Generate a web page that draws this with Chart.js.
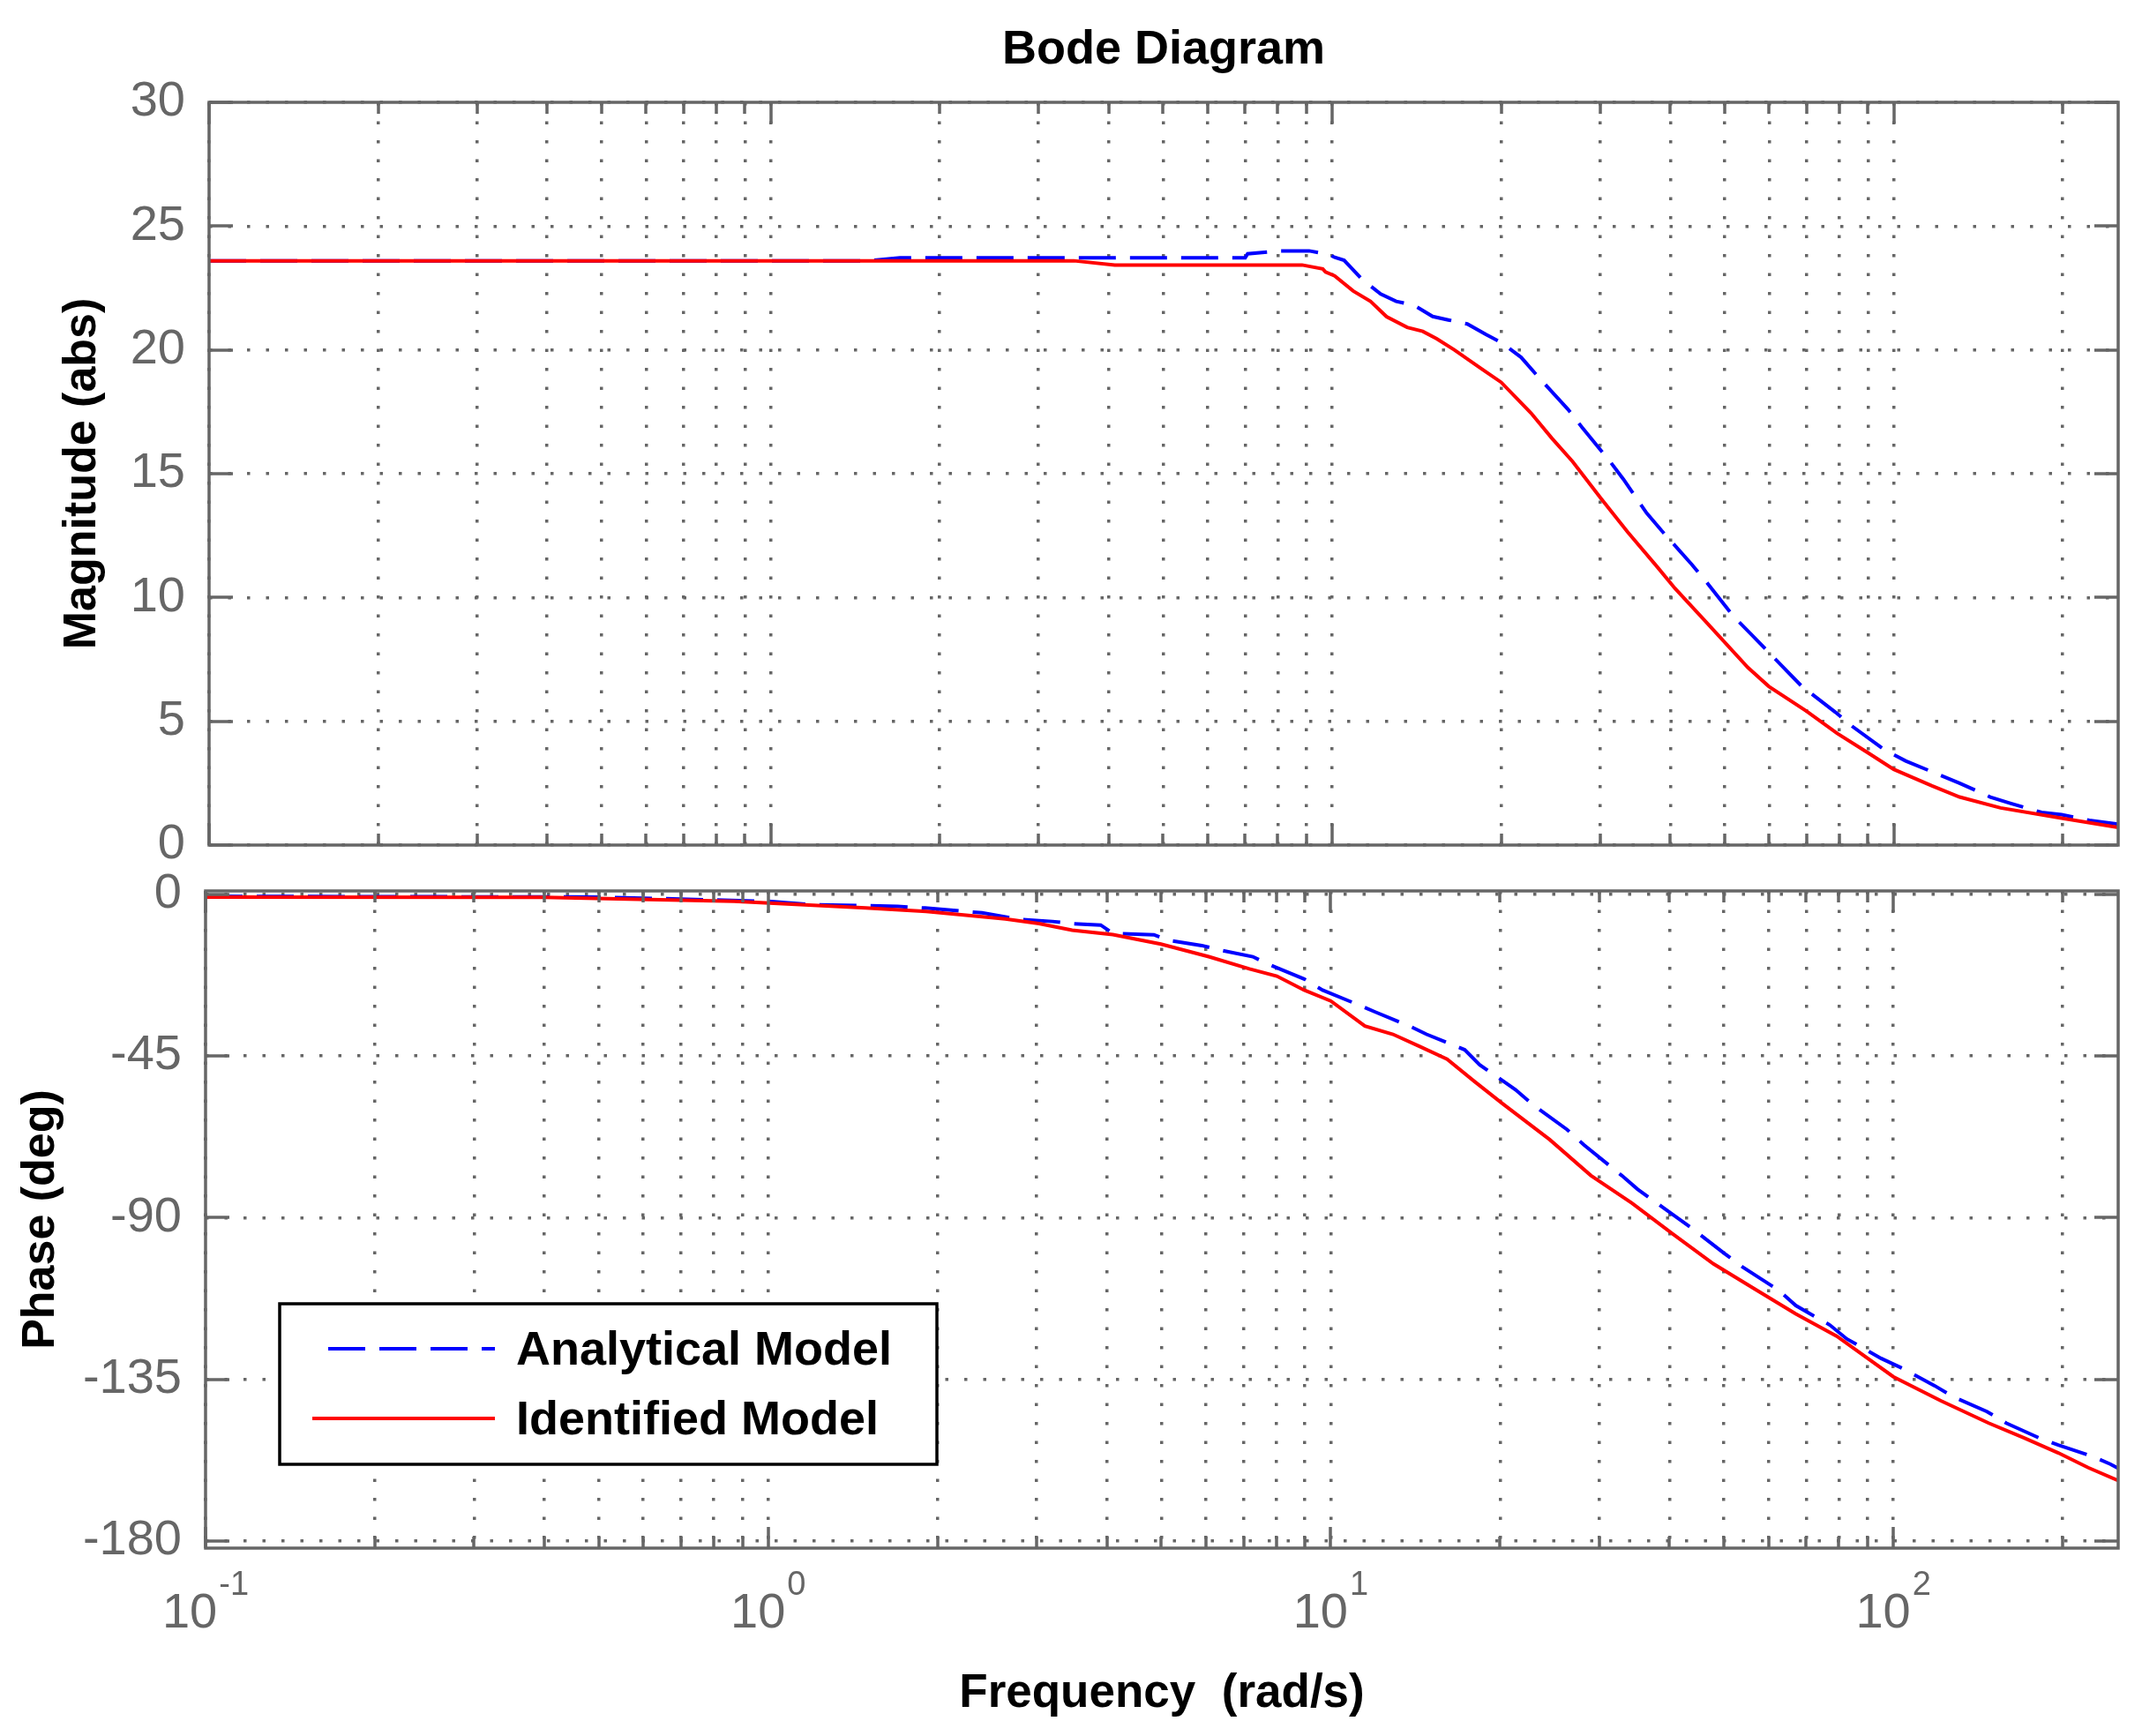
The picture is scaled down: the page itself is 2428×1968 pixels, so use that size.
<!DOCTYPE html>
<html>
<head>
<meta charset="utf-8">
<title>Bode Diagram</title>
<script src="https://cdn.jsdelivr.net/npm/chart.js@4.4.1/dist/chart.umd.min.js"></script>
<style>
  html, body { margin: 0; padding: 0; background: #fff; }
  #page { position: relative; width: 2428px; height: 1968px; overflow: hidden; }
  #magBox { position: absolute; left: 0; top: 0; width: 2428px; height: 985px; }
  #phaseBox { position: absolute; left: 0; top: 985px; width: 2428px; height: 983px; }
</style>
</head>
<body>
<div id="page">
  <div id="magBox"><canvas id="magChart" width="2428" height="985"></canvas></div>
  <div id="phaseBox"><canvas id="phaseChart" width="2428" height="983"></canvas></div>
</div>
<script>
//------------------------------------------------------
// DATA
//------------------------------------------------------

// x axis: frequency (rad/s), log scale
const freqMin = 0.1;
const freqMax = 251;
const decades = [0.1, 1, 10, 100];
const decadeBase = '10';
const decadeExponents = ['-1', '0', '1', '2'];
const minorSteps = [2, 3, 4, 5, 6, 7, 8, 9];

// y ticks
const magTicks = [0, 5, 10, 15, 20, 25, 30];
const phaseTicks = [-180, -135, -90, -45, 0];

const seriesNames = ['Analytical Model', 'Identified Model'];

// magnitude (abs) - identified model
const magFreqIdentified = [0.1, 3.47, 4.1, 8.84, 9.62, 9.73, 10.1, 10.9, 11.7, 12.5, 13.6, 14.5, 15.35, 16.5, 18.4, 20, 22.6, 24.6, 26.8, 30.1, 33.6, 38, 40.8, 46.6, 55, 59.9, 69.9, 79.3, 89.9, 100, 117, 131, 155, 199, 251];
const magIdentified     = [23.6, 23.6, 23.43, 23.43, 23.27, 23.15, 22.99, 22.38, 21.96, 21.34, 20.91, 20.75, 20.45, 20.0, 19.25, 18.69, 17.45, 16.44, 15.49, 14.0, 12.64, 11.21, 10.36, 8.95, 7.17, 6.41, 5.41, 4.51, 3.73, 3.06, 2.39, 1.94, 1.5, 1.09, 0.71];

// magnitude (abs) - analytical model
const magFreqAnalytical = [0.1, 1.5, 1.7, 7.0, 7.07, 8.1, 9.1, 9.85, 10.1, 10.5, 11.3, 12.2, 13.0, 14.0, 15.1, 16.1, 17.4, 18.8, 20.0, 21.7, 23.2, 26.3, 27.9, 31.2, 33.0, 36.3, 38.6, 43.7, 46.4, 51.9, 55.6, 63.5, 68.6, 78.8, 84.3, 96.4, 105, 120.5, 131, 148.6, 161.7, 183.4, 199, 223, 251];
const magAnalytical     = [23.6, 23.6, 23.72, 23.72, 23.88, 24.0, 24.0, 23.86, 23.74, 23.62, 22.85, 22.26, 21.96, 21.8, 21.35, 21.21, 21.05, 20.62, 20.3, 19.7, 18.95, 17.6, 16.85, 15.51, 14.78, 13.41, 12.7, 11.33, 10.62, 9.22, 8.54, 7.19, 6.41, 5.36, 4.8, 3.84, 3.4, 2.84, 2.5, 1.94, 1.68, 1.32, 1.23, 1.0, 0.85];

// phase (deg) - identified model
const phaseFreqIdentified = [0.1, 0.4, 0.87, 1.14, 1.49, 1.91, 2.29, 2.64, 3.03, 3.47, 4.1, 4.99, 6.07, 7.17, 8.02, 8.97, 10.0, 11.5, 12.9, 14.4, 16.1, 18.0, 20.2, 24.5, 29.0, 34.3, 40.5, 47.9, 56.7, 67.1, 79.3, 100, 121.5, 147.7, 170.5, 196.4, 222, 251];
const phaseIdentified     = [-0.8, -0.9, -2.0, -2.9, -3.85, -4.8, -6.0, -6.9, -8.2, -10.0, -11.25, -13.9, -17.4, -20.8, -22.8, -26.7, -29.7, -36.7, -39.0, -42.4, -45.9, -52.1, -58.3, -68.3, -78.3, -86.0, -94.5, -102.9, -109.9, -116.8, -123.0, -134.3, -141.0, -147.2, -151.3, -155.5, -159.6, -163.2];

// phase (deg) - analytical model
const phaseFreqAnalytical = [0.1, 0.5, 1.0, 1.2, 1.7, 1.9, 2.4, 2.8, 3.2, 3.47, 3.9, 4.1, 4.85, 5.13, 5.9, 6.33, 7.27, 7.8, 8.97, 9.67, 11.2, 12.0, 13.8, 14.8, 17.3, 18.4, 21.3, 22.9, 26.3, 28.2, 32.9, 35.1, 40.5, 43.5, 50, 53.9, 62.5, 67.1, 77.1, 82.7, 95.1, 104.2, 118.4, 127.9, 146.7, 158.7, 182, 196.4, 226, 243, 251];
const phaseAnalytical     = [-0.6, -0.8, -2.0, -2.9, -3.4, -3.85, -5.2, -7.0, -7.6, -8.2, -8.6, -10.9, -11.3, -12.8, -14.3, -15.5, -17.4, -19.7, -23.6, -26.7, -30.8, -32.8, -36.7, -39.0, -43.3, -47.5, -54.4, -58.7, -65.5, -69.8, -78.3, -82.1, -89.1, -92.6, -99.9, -103.7, -110.2, -114.5, -119.9, -123.8, -129.2, -132.1, -136.8, -139.9, -144.0, -147.2, -151.4, -153.3, -156.5, -158.6, -159.8];

//------------------------------------------------------
// COMMON STYLE
//------------------------------------------------------

const FONT = '"Liberation Sans", Arial, sans-serif';
Chart.defaults.font.family = FONT;
Chart.defaults.color = '#666';

const GRID = '#666';
const BLUE = '#0000ff';
const RED = '#ff0000';

const pts = (xs, ys) => xs.map((x, i) => ({ x: x, y: ys[i] }));

// all x tick values: decades plus 2..9 in between
const freqTicks = [];
decades.forEach(d => {
  freqTicks.push({ value: d, major: true });
  minorSteps.forEach(m => {
    if (d * m <= freqMax) freqTicks.push({ value: d * m, major: false });
  });
});

// box round the plot with inward tick marks (MATLAB style)
const frame = {
  id: 'frame',
  afterDatasetsDraw(chart) {
    const { ctx, chartArea: a } = chart;
    const x = chart.scales.x, y = chart.scales.y;
    ctx.save();
    ctx.setLineDash([]);
    ctx.strokeStyle = GRID;
    ctx.lineWidth = 3.5;
    ctx.beginPath();
    x.ticks.forEach(t => {
      const px = Math.round(x.getPixelForValue(t.value));
      const len = t.major ? 24 : 13;
      ctx.moveTo(px, a.bottom); ctx.lineTo(px, a.bottom - len);
      ctx.moveTo(px, a.top); ctx.lineTo(px, a.top + len);
    });
    y.ticks.forEach(t => {
      const py = Math.round(y.getPixelForValue(t.value));
      ctx.moveTo(a.left, py); ctx.lineTo(a.left + 27, py);
      ctx.moveTo(a.right, py); ctx.lineTo(a.right - 27, py);
    });
    ctx.stroke();
    ctx.strokeRect(a.left, a.top, a.right - a.left, a.bottom - a.top);
    ctx.restore();
  }
};

// 10^n labels under the decades, with a raised exponent
const decadeLabels = {
  id: 'decadeLabels',
  afterDraw(chart) {
    const { ctx, chartArea: a } = chart;
    const x = chart.scales.x;
    ctx.save();
    ctx.fillStyle = '#666';
    ctx.textBaseline = 'alphabetic';
    ctx.textAlign = 'left';
    decades.forEach((d, i) => {
      const px = x.getPixelForValue(d);
      ctx.font = '56px ' + FONT;
      const bw = ctx.measureText(decadeBase).width;
      ctx.font = '38px ' + FONT;
      const ew = ctx.measureText(decadeExponents[i]).width;
      const x0 = px - (bw + 2 + ew) / 2;
      ctx.font = '56px ' + FONT;
      ctx.fillText(decadeBase, x0, a.bottom + 90);
      ctx.font = '38px ' + FONT;
      ctx.fillText(decadeExponents[i], x0 + bw + 2, a.bottom + 53);
    });
    ctx.restore();
  }
};

// legend box inside the phase plot
const boxLegend = {
  id: 'boxLegend',
  afterDraw(chart) {
    const { ctx, chartArea: a } = chart;
    const left = a.left + 84, top = a.top + 468, w = 745, h = 182;
    ctx.save();
    ctx.fillStyle = '#fff';
    ctx.fillRect(left, top, w, h);
    ctx.strokeStyle = '#000';
    ctx.lineWidth = 3.5;
    ctx.setLineDash([]);
    ctx.strokeRect(left, top, w, h);
    const rows = [51, 130];
    chart.data.datasets.forEach((ds, i) => {
      const yy = top + rows[i];
      ctx.strokeStyle = ds.borderColor;
      ctx.lineWidth = 4;
      ctx.setLineDash(ds.borderDash || []);
      ctx.beginPath();
      ctx.moveTo(left + (ds.borderDash ? 55 : 37), yy);
      ctx.lineTo(left + 244, yy);
      ctx.stroke();
      ctx.setLineDash([]);
      ctx.fillStyle = '#000';
      ctx.font = 'bold 54px ' + FONT;
      ctx.textBaseline = 'middle';
      ctx.textAlign = 'left';
      ctx.fillText(ds.label, left + 268, yy + 3);
    });
    ctx.restore();
  }
};

const xAxis = (height, title) => ({
  type: 'logarithmic',
  min: freqMin,
  max: freqMax,
  afterBuildTicks: s => { s.ticks = freqTicks.map(t => ({ value: t.value, major: t.major })); },
  afterFit: s => { s.height = height; s.paddingLeft = 0; s.paddingRight = 0; },
  grid: { color: GRID, lineWidth: 3.5, drawTicks: false, borderDash: [3.5, 18] },
  border: { display: false, dash: [3.5, 18] },
  ticks: { display: false, autoSkip: false, maxRotation: 0, minRotation: 0 },
  title: title
});

const yAxis = (min, max, tickList, width, titleText, titlePad) => ({
  min: min,
  max: max,
  afterBuildTicks: s => { s.ticks = tickList.map(v => ({ value: v })); },
  afterFit: s => { s.width = width; s.paddingTop = 0; s.paddingBottom = 0; },
  grid: { color: GRID, lineWidth: 3.5, drawTicks: false, borderDash: [3.5, 18] },
  border: { display: false, dash: [3.5, 18] },
  ticks: { padding: 27, color: '#666', font: { size: 56 } },
  title: {
    display: true,
    text: titleText,
    color: '#000',
    font: { size: 52, weight: 'bold' },
    padding: { top: titlePad, bottom: 0 }
  }
});

const lineSet = (label, data, color, dash, order) => ({
  label: label,
  data: data,
  borderColor: color,
  backgroundColor: color,
  borderWidth: 4,
  borderDash: dash,
  pointRadius: 0,
  fill: false,
  tension: 0,
  order: order
});

//------------------------------------------------------
// MAGNITUDE CHART
//------------------------------------------------------

const magChart = new Chart(document.getElementById('magChart').getContext('2d'), {
  type: 'line',
  data: {
    datasets: [
      lineSet(seriesNames[0], pts(magFreqAnalytical, magAnalytical), BLUE, [42, 16], 1),
      lineSet(seriesNames[1], pts(magFreqIdentified, magIdentified), RED, undefined, 0)
    ]
  },
  options: {
    responsive: false,
    animation: false,
    devicePixelRatio: 1,
    layout: { padding: { left: 0, right: 27, top: 0, bottom: 0 } },
    plugins: {
      legend: { display: false },
      tooltip: { enabled: false },
      title: {
        display: true,
        text: 'Bode Diagram',
        fullSize: false,
        color: '#000',
        font: { size: 54, weight: 'bold' },
        padding: { top: 24.6, bottom: 26.6 }
      }
    },
    scales: {
      x: xAxis(27, { display: false }),
      y: yAxis(0, 30, magTicks, 237, 'Magnitude (abs)', 62)
    }
  },
  plugins: [frame]
});

//------------------------------------------------------
// PHASE CHART
//------------------------------------------------------

const phaseChart = new Chart(document.getElementById('phaseChart').getContext('2d'), {
  type: 'line',
  data: {
    datasets: [
      lineSet(seriesNames[0], pts(phaseFreqAnalytical, phaseAnalytical), BLUE, [42, 16], 1),
      lineSet(seriesNames[1], pts(phaseFreqIdentified, phaseIdentified), RED, undefined, 0)
    ]
  },
  options: {
    responsive: false,
    animation: false,
    devicePixelRatio: 1,
    layout: { padding: { left: 0, right: 27, top: 25, bottom: 0 } },
    plugins: {
      legend: { display: false },
      tooltip: { enabled: false }
    },
    scales: {
      x: xAxis(213, {
        display: true,
        text: 'Frequency  (rad/s)',
        color: '#000',
        font: { size: 53, weight: 'bold' },
        padding: { top: 0, bottom: 16 }
      }),
      y: yAxis(-182, 0.9, phaseTicks, 233, 'Phase (deg)', 15)
    }
  },
  plugins: [frame, decadeLabels, boxLegend]
});
</script>
</body>
</html>
